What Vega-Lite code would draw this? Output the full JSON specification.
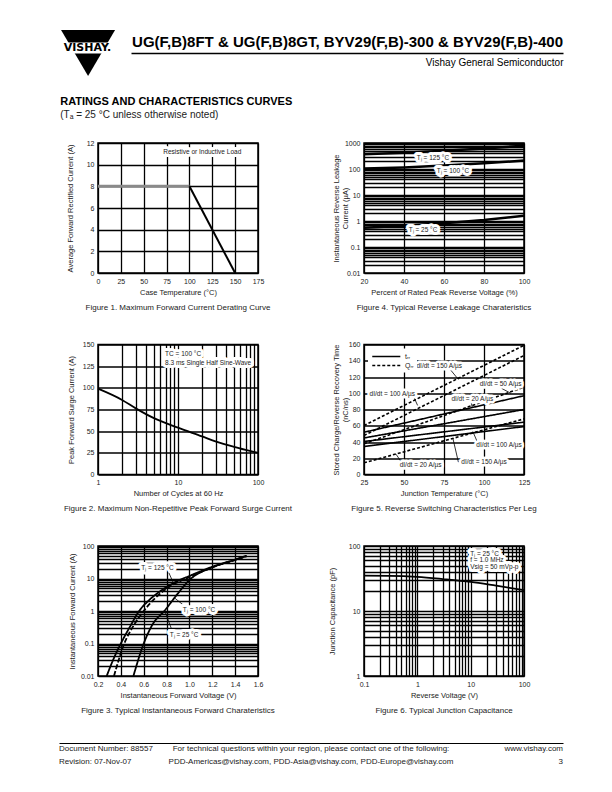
{
  "$schema": "https://vega.github.io/schema/vega-lite/v6.json",
  "background": "white",
  "padding": {"left": 59, "top": 29, "right": 10, "bottom": 10},
  "spacing": 19,
  "config": {
    "view": {"stroke": "black", "strokeWidth": 1.5},
    "axis": {
      "grid": true, "gridColor": "black", "gridOpacity": 1, "gridWidth": 1.3,
      "domain": false, "ticks": false,
      "labelFont": "Liberation Sans", "labelFontSize": 7, "labelColor": "#222",
      "labelPadding": 4, "labelFlush": false, "labelOverlap": false, "labelBound": false,
      "titleFont": "Liberation Sans", "titleFontSize": 7.5, "titleFontWeight": "normal",
      "titleColor": "#222", "titlePadding": 4
    },
    "axisY": {"titlePadding": 7},
    "title": {"font": "Liberation Sans", "fontSize": 8, "fontWeight": "normal", "color": "#222", "orient": "bottom", "anchor": "middle", "frame": "group", "offset": 8}
  },
  "datasets": {
    "fig1": [
      {"temp": 0, "current": 8, "seg": "flat"}, {"temp": 100, "current": 8, "seg": "flat"},
      {"temp": 100, "current": 8, "seg": "slope"}, {"temp": 150, "current": 0, "seg": "slope"}
    ],
    "fig1ann": [{"temp": 114, "current": 11.2, "label": "Resistive or Inductive Load"}],
    "fig4": [
      {"pct": 20, "ir": 370, "tj": "125"}, {"pct": 40, "ir": 420, "tj": "125"}, {"pct": 60, "ir": 500, "tj": "125"}, {"pct": 80, "ir": 620, "tj": "125"}, {"pct": 100, "ir": 780, "tj": "125"},
      {"pct": 20, "ir": 105, "tj": "100"}, {"pct": 40, "ir": 115, "tj": "100"}, {"pct": 60, "ir": 135, "tj": "100"}, {"pct": 80, "ir": 165, "tj": "100"}, {"pct": 100, "ir": 210, "tj": "100"},
      {"pct": 20, "ir": 0.55, "tj": "25"}, {"pct": 40, "ir": 0.65, "tj": "25"}, {"pct": 60, "ir": 0.82, "tj": "25"}, {"pct": 80, "ir": 1.1, "tj": "25"}, {"pct": 100, "ir": 1.6, "tj": "25"}
    ],
    "fig4ann": [
      {"pct": 54.5, "ir": 262, "label": "Tⱼ = 125 °C"},
      {"pct": 64.5, "ir": 82, "label": "Tⱼ = 100 °C"},
      {"pct": 49.5, "ir": 0.46, "label": "Tⱼ = 25 °C"}
    ],
    "fig2": [
      {"cycles": 1, "ifsm": 99}, {"cycles": 2, "ifsm": 86}, {"cycles": 3, "ifsm": 76}, {"cycles": 5, "ifsm": 65},
      {"cycles": 10, "ifsm": 54}, {"cycles": 20, "ifsm": 44}, {"cycles": 30, "ifsm": 38}, {"cycles": 50, "ifsm": 32},
      {"cycles": 70, "ifsm": 28.5}, {"cycles": 100, "ifsm": 25}
    ],
    "fig2ann": [
      {"cycles": 6.9, "ifsm": 139.5, "label": "TC = 100 °C"},
      {"cycles": 6.9, "ifsm": 129, "label": "8.3 ms Single Half Sine-Wave"}
    ],
    "fig5": [
      {"tj": 25, "val": 52, "type": "trr", "di": "150"}, {"tj": 125, "val": 97, "type": "trr", "di": "150"},
      {"tj": 25, "val": 45, "type": "trr", "di": "100"}, {"tj": 125, "val": 80, "type": "trr", "di": "100"},
      {"tj": 25, "val": 40.6, "type": "trr", "di": "50"}, {"tj": 125, "val": 64.4, "type": "trr", "di": "50"},
      {"tj": 25, "val": 34.5, "type": "trr", "di": "20"}, {"tj": 125, "val": 59, "type": "trr", "di": "20"},
      {"tj": 25, "val": 60.3, "type": "Qrr", "di": "150"}, {"tj": 125, "val": 159, "type": "Qrr", "di": "150"},
      {"tj": 25, "val": 48, "type": "Qrr", "di": "100"}, {"tj": 125, "val": 146.5, "type": "Qrr", "di": "100"},
      {"tj": 25, "val": 37.7, "type": "Qrr", "di": "50"}, {"tj": 125, "val": 107.5, "type": "Qrr", "di": "50"},
      {"tj": 25, "val": 14.4, "type": "Qrr", "di": "20"}, {"tj": 125, "val": 68.5, "type": "Qrr", "di": "20"}
    ],
    "fig5ann": [
      {"tj": 72, "val": 134, "label": "dI/dt = 150 A/µs"},
      {"tj": 110.4, "val": 111.6, "label": "dI/dt = 50 A/µs"},
      {"tj": 42.7, "val": 99.3, "label": "dI/dt = 100 A/µs"},
      {"tj": 92.7, "val": 93.1, "label": "dI/dt = 20 A/µs"},
      {"tj": 109.4, "val": 35.7, "label": "dI/dt = 100 A/µs"},
      {"tj": 100, "val": 15.2, "label": "dI/dt = 150 A/µs"},
      {"tj": 60.4, "val": 11.1, "label": "dI/dt = 20 A/µs"}
    ],
    "fig5arrows": [
      {"tj": 79, "val": 129, "tj2": 84, "val2": 117},
      {"tj": 111, "val": 106, "tj2": 116.7, "val2": 100},
      {"tj": 56, "val": 96, "tj2": 58.5, "val2": 85},
      {"tj": 92, "val": 89, "tj2": 92.7, "val2": 82},
      {"tj": 96.5, "val": 37, "tj2": 93, "val2": 53},
      {"tj": 84, "val": 15.2, "tj2": 80.5, "val2": 45},
      {"tj": 49, "val": 13.5, "tj2": 45, "val2": 25}
    ],
    "fig3": [
      {"vf": 0.276, "cur": 0.01, "tj": "125"}, {"vf": 0.33, "cur": 0.03, "tj": "125"}, {"vf": 0.4, "cur": 0.1, "tj": "125"}, {"vf": 0.48, "cur": 0.33, "tj": "125"},
      {"vf": 0.56, "cur": 1, "tj": "125"}, {"vf": 0.65, "cur": 2.2, "tj": "125"}, {"vf": 0.75, "cur": 4.2, "tj": "125"}, {"vf": 0.9, "cur": 8.5, "tj": "125"},
      {"vf": 1.0, "cur": 12, "tj": "125"}, {"vf": 1.2, "cur": 23, "tj": "125"}, {"vf": 1.4, "cur": 38, "tj": "125"}, {"vf": 1.5, "cur": 50, "tj": "125"},
      {"vf": 0.34, "cur": 0.01, "tj": "100"}, {"vf": 0.43, "cur": 0.1, "tj": "100"}, {"vf": 0.51, "cur": 0.35, "tj": "100"}, {"vf": 0.59, "cur": 0.9, "tj": "100"},
      {"vf": 0.7, "cur": 2.5, "tj": "100"}, {"vf": 0.84, "cur": 6, "tj": "100"}, {"vf": 1.0, "cur": 11, "tj": "100"}, {"vf": 1.2, "cur": 22, "tj": "100"},
      {"vf": 1.4, "cur": 37, "tj": "100"}, {"vf": 1.5, "cur": 48, "tj": "100"},
      {"vf": 0.51, "cur": 0.01, "tj": "25"}, {"vf": 0.6, "cur": 0.1, "tj": "25"}, {"vf": 0.68, "cur": 0.4, "tj": "25"}, {"vf": 0.78, "cur": 1, "tj": "25"},
      {"vf": 0.9, "cur": 3.5, "tj": "25"}, {"vf": 1.0, "cur": 9, "tj": "25"}, {"vf": 1.2, "cur": 22, "tj": "25"}, {"vf": 1.4, "cur": 38, "tj": "25"}, {"vf": 1.5, "cur": 50, "tj": "25"}
    ],
    "fig3ann": [
      {"vf": 0.72, "cur": 21.5, "label": "Tⱼ = 125 °C"},
      {"vf": 1.084, "cur": 1.1, "label": "Tⱼ = 100 °C"},
      {"vf": 0.953, "cur": 0.18, "label": "Tⱼ = 25 °C"}
    ],
    "fig3arrows": [
      {"vf": 0.82, "cur": 15, "vf2": 0.865, "cur2": 6.6},
      {"vf": 0.96, "cur": 1.4, "vf2": 0.865, "cur2": 2.6},
      {"vf": 0.84, "cur": 0.3, "vf2": 0.79, "cur2": 0.88}
    ],
    "fig6": [
      {"vr": 0.1, "cj": 35}, {"vr": 0.3, "cj": 34.8}, {"vr": 1, "cj": 33.5}, {"vr": 3, "cj": 31},
      {"vr": 10, "cj": 28}, {"vr": 30, "cj": 24.5}, {"vr": 100, "cj": 21}
    ],
    "fig6ann": [
      {"vr": 9.8, "cj": 75, "label": "Tⱼ = 25 °C"},
      {"vr": 9.8, "cj": 61, "label": "f = 1.0 MHz"},
      {"vr": 9.8, "cj": 47.5, "label": "Vsig = 50 mVp-p"}
    ],
    "footer": [
      {"col": "left", "line": 1, "text": "Document Number: 88557"},
      {"col": "left", "line": 2, "text": "Revision: 07-Nov-07"},
      {"col": "center", "line": 1, "text": "For technical questions within your region, please contact one of the following:"},
      {"col": "center", "line": 2, "text": "PDD-Americas@vishay.com, PDD-Asia@vishay.com, PDD-Europe@vishay.com"},
      {"col": "right", "line": 1, "text": "www.vishay.com"},
      {"col": "right", "line": 2, "text": "3"}
    ]
  },
  "vconcat": [
    {
      "hconcat": [
        {
          "width": 57, "height": 47,
          "view": {"stroke": null},
          "data": {"values": [{}]},
          "layer": [
            {
              "mark": {"type": "point", "shape": "M-1,-0.852L1,-0.852L0,0.852Z", "filled": true, "fill": "black", "strokeWidth": 0, "size": 2916, "opacity": 1},
              "encoding": {
                "x": {"datum": 0.51, "type": "quantitative", "scale": {"domain": [0, 1]}, "axis": null},
                "y": {"datum": 0.511, "type": "quantitative", "scale": {"domain": [0, 1]}, "axis": null}
              }
            },
            {
              "mark": {"type": "rect", "fill": "white"},
              "encoding": {
                "x": {"datum": 0, "type": "quantitative"}, "x2": {"datum": 1},
                "y": {"datum": 0.5, "type": "quantitative"}, "y2": {"datum": 0.734}
              }
            },
            {
              "mark": {"type": "text", "text": "VISHAY.", "font": "DejaVu Sans", "fontWeight": "bold", "fontSize": 11, "fill": "black", "align": "center", "baseline": "middle"},
              "encoding": {
                "x": {"datum": 0.5, "type": "quantitative"},
                "y": {"datum": 0.625, "type": "quantitative"}
              }
            }
          ]
        },
        {
          "width": 432, "height": 23,
          "view": {"stroke": null},
          "data": {"values": [{}]},
          "mark": {"type": "text", "text": "UG(F,B)8FT & UG(F,B)8GT, BYV29(F,B)-300 & BYV29(F,B)-400", "align": "right", "baseline": "alphabetic", "fontSize": 15, "fontWeight": "bold", "fill": "black", "font": "Liberation Sans"},
          "encoding": {
            "x": {"datum": 1, "type": "quantitative", "scale": {"domain": [0, 1]},
              "axis": {"orient": "bottom", "domain": true, "domainColor": "black", "domainWidth": 1.3, "labels": false, "ticks": false, "grid": false,
                "title": "Vishay General Semiconductor", "titleAnchor": "end", "titleFontSize": 10, "titleFont": "Liberation Sans", "titleColor": "black", "titlePadding": 4, "labelPadding": 0}},
            "y": {"datum": 0.26, "type": "quantitative", "scale": {"domain": [0, 1]}, "axis": null}
          }
        }
      ],
      "spacing": 15,
      "bounds": "flush"
    },
    {
      "vconcat": [
        {
          "hconcat": [
            {"width": 0.01, "height": 0.01, "view": {"stroke": null}, "data": {"values": []}, "mark": "point"},
            {
              "title": {"text": "RATINGS AND CHARACTERISTICS CURVES", "subtitle": "(Tₐ = 25 °C unless otherwise noted)", "anchor": "start", "orient": "top", "frame": "bounds", "dx": -3,
                "fontSize": 11, "fontWeight": "bold", "font": "Liberation Sans", "color": "black",
                "subtitleFontSize": 10, "subtitleFont": "Liberation Sans", "subtitleColor": "#222", "subtitlePadding": 3, "offset": 18},
              "columns": 2,
              "spacing": {"row": 71.5, "column": 106},
              "bounds": "flush",
              "resolve": {"scale": {"strokeDash": "independent"}, "legend": {"strokeDash": "independent"}},
              "concat": [
                {
                  "width": 160, "height": 130,
                  "title": {"text": "Figure 1. Maximum Forward Current Derating Curve"},
                  "encoding": {
                    "x": {"field": "temp", "type": "quantitative", "scale": {"domain": [0, 175], "nice": false}, "axis": {"values": [0, 25, 50, 75, 100, 125, 150, 175], "title": "Case Temperature (°C)"}},
                    "y": {"field": "current", "type": "quantitative", "scale": {"domain": [0, 12], "nice": false}, "axis": {"values": [0, 2, 4, 6, 8, 10, 12], "title": "Average Forward Rectified Current (A)", "titleX": -24}}
                  },
                  "layer": [
                    {"data": {"name": "fig1"}, "transform": [{"filter": "datum.seg == 'flat'"}], "mark": {"type": "line", "color": "#8a8a8a", "strokeWidth": 3}},
                    {"data": {"name": "fig1"}, "transform": [{"filter": "datum.seg == 'slope'"}], "mark": {"type": "line", "color": "black", "strokeWidth": 2}},
                    {"data": {"name": "fig1ann"}, "mark": {"type": "text", "fill": "white", "stroke": "white", "strokeWidth": 6, "strokeJoin": "round", "fontSize": 6.5, "font": "Liberation Sans"}, "encoding": {"text": {"field": "label"}}},
                    {"data": {"name": "fig1ann"}, "mark": {"type": "text", "fill": "#222", "fontSize": 6.5, "font": "Liberation Sans"}, "encoding": {"text": {"field": "label"}}}
                  ]
                },
                {
                  "width": 160, "height": 130,
                  "title": {"text": "Figure 4. Typical Reverse Leakage Charateristics"},
                  "encoding": {
                    "x": {"field": "pct", "type": "quantitative", "scale": {"domain": [20, 100], "nice": false, "zero": false}, "axis": {"values": [20, 40, 60, 80, 100], "title": "Percent of Rated Peak Reverse Voltage (%)"}},
                    "y": {"field": "ir", "type": "quantitative", "scale": {"type": "log", "domain": [0.01, 1000], "nice": false},
                      "axis": {"values": [0.01, 0.02, 0.03, 0.04, 0.05, 0.06, 0.07, 0.08, 0.09, 0.1, 0.2, 0.3, 0.4, 0.5, 0.6, 0.7, 0.8, 0.9, 1, 2, 3, 4, 5, 6, 7, 8, 9, 10, 20, 30, 40, 50, 60, 70, 80, 90, 100, 200, 300, 400, 500, 600, 700, 800, 900, 1000],
                        "format": "~g", "labelExpr": "indexof(['0.01','0.1','1','10','100','1000'], datum.label) >= 0 ? datum.label : ''", "gridWidth": 1.6,
                        "title": ["Instantaneous Reverse Leakage", "Current (µA)"], "titleX": -24}}
                  },
                  "layer": [
                    {"data": {"name": "fig4"}, "mark": {"type": "line", "color": "black", "strokeWidth": 2.5, "clip": true}, "encoding": {"detail": {"field": "tj"}}},
                    {"data": {"name": "fig4ann"}, "mark": {"type": "text", "fill": "white", "stroke": "white", "strokeWidth": 6, "strokeJoin": "round", "fontSize": 6.5, "font": "Liberation Sans"}, "encoding": {"text": {"field": "label"}}},
                    {"data": {"name": "fig4ann"}, "mark": {"type": "text", "fill": "#222", "fontSize": 6.5, "font": "Liberation Sans"}, "encoding": {"text": {"field": "label"}}}
                  ]
                },
                {
                  "width": 160, "height": 130,
                  "title": {"text": "Figure 2. Maximum Non-Repetitive Peak Forward Surge Current"},
                  "encoding": {
                    "x": {"field": "cycles", "type": "quantitative", "scale": {"type": "log", "domain": [1, 100], "nice": false},
                      "axis": {"values": [1, 2, 3, 4, 5, 6, 7, 8, 9, 10, 20, 30, 40, 50, 60, 70, 80, 90, 100], "format": "~g",
                        "labelExpr": "indexof(['1','10','100'], datum.label) >= 0 ? datum.label : ''", "title": "Number of Cycles at 60 Hz"}},
                    "y": {"field": "ifsm", "type": "quantitative", "scale": {"domain": [0, 150], "nice": false}, "axis": {"values": [0, 25, 50, 75, 100, 125, 150], "title": "Peak Forward Surge Current (A)", "titleX": -23}}
                  },
                  "layer": [
                    {"data": {"name": "fig2"}, "mark": {"type": "line", "color": "black", "strokeWidth": 1.8, "interpolate": "monotone"}},
                    {"data": {"name": "fig2ann"}, "mark": {"type": "text", "align": "left", "fill": "white", "stroke": "white", "strokeWidth": 6, "strokeJoin": "round", "fontSize": 6.5, "font": "Liberation Sans"}, "encoding": {"text": {"field": "label"}}},
                    {"data": {"name": "fig2ann"}, "mark": {"type": "text", "align": "left", "fill": "#222", "fontSize": 6.5, "font": "Liberation Sans"}, "encoding": {"text": {"field": "label"}}}
                  ]
                },
                {
                  "width": 160, "height": 130,
                  "title": {"text": "Figure 5. Reverse Switching Characteristics Per Leg"},
                  "encoding": {
                    "x": {"field": "tj", "type": "quantitative", "scale": {"domain": [25, 125], "nice": false, "zero": false}, "axis": {"values": [25, 50, 75, 100, 125], "title": "Junction Temperature (°C)"}},
                    "y": {"field": "val", "type": "quantitative", "scale": {"domain": [0, 160], "nice": false}, "axis": {"values": [0, 20, 40, 60, 80, 100, 120, 140, 160], "title": ["Stored Charge/Reverse Recovery Time", "(nC/ns)"], "titleX": -24}}
                  },
                  "layer": [
                    {"data": {"name": "fig5"}, "mark": {"type": "line", "color": "black", "strokeWidth": 1.6, "clip": true},
                      "encoding": {
                        "detail": {"field": "di"},
                        "strokeDash": {"field": "type", "type": "nominal", "scale": {"domain": ["trr", "Qrr"], "range": [[1, 0], [3, 2]]},
                          "legend": {"orient": "top-left", "offset": 4, "title": null, "fillColor": "white", "padding": 3,
                            "symbolType": "M-1,0L6.5,0", "symbolSize": 56, "symbolStrokeWidth": 1.6, "symbolStrokeColor": "black",
                            "labelFontSize": 7, "labelFont": "Liberation Sans", "labelColor": "#222", "labelOffset": 24, "rowPadding": 0,
                            "labelExpr": "datum.label == 'trr' ? 'tᵣᵣ' : 'Qᵣᵣ'"}}
                      }},
                    {"data": {"name": "fig5arrows"}, "mark": {"type": "rule", "color": "black", "strokeWidth": 0.8}, "encoding": {"x2": {"field": "tj2"}, "y2": {"field": "val2"}}},
                    {"data": {"name": "fig5ann"}, "mark": {"type": "text", "fill": "white", "stroke": "white", "strokeWidth": 5, "strokeJoin": "round", "fontSize": 6.5, "font": "Liberation Sans"}, "encoding": {"text": {"field": "label"}}},
                    {"data": {"name": "fig5ann"}, "mark": {"type": "text", "fill": "#222", "fontSize": 6.5, "font": "Liberation Sans"}, "encoding": {"text": {"field": "label"}}}
                  ]
                },
                {
                  "width": 160, "height": 130,
                  "title": {"text": "Figure 3. Typical Instantaneous Forward Charateristics"},
                  "encoding": {
                    "x": {"field": "vf", "type": "quantitative", "scale": {"domain": [0.2, 1.6], "nice": false, "zero": false}, "axis": {"values": [0.2, 0.4, 0.6, 0.8, 1.0, 1.2, 1.4, 1.6], "format": ".1f", "title": "Instantaneous Forward Voltage (V)"}},
                    "y": {"field": "cur", "type": "quantitative", "scale": {"type": "log", "domain": [0.01, 100], "nice": false},
                      "axis": {"values": [0.01, 0.02, 0.03, 0.04, 0.05, 0.06, 0.07, 0.08, 0.09, 0.1, 0.2, 0.3, 0.4, 0.5, 0.6, 0.7, 0.8, 0.9, 1, 2, 3, 4, 5, 6, 7, 8, 9, 10, 20, 30, 40, 50, 60, 70, 80, 90, 100],
                        "format": "~g", "labelExpr": "indexof(['0.01','0.1','1','10','100'], datum.label) >= 0 ? datum.label : ''", "gridWidth": 1.6,
                        "title": "Instantaneous Forward Current (A)", "titleX": -22}}
                  },
                  "layer": [
                    {"data": {"name": "fig3"}, "mark": {"type": "line", "color": "black", "strokeWidth": 1.8, "interpolate": "monotone", "clip": true},
                      "encoding": {"detail": {"field": "tj"}, "strokeDash": {"field": "tj", "type": "nominal", "scale": {"domain": ["125", "100", "25"], "range": [[1, 0], [5, 2], [1, 0]]}, "legend": null}}},
                    {"data": {"name": "fig3arrows"}, "mark": {"type": "rule", "color": "black", "strokeWidth": 0.8}, "encoding": {"x2": {"field": "vf2"}, "y2": {"field": "cur2"}}},
                    {"data": {"name": "fig3ann"}, "mark": {"type": "text", "fill": "white", "stroke": "white", "strokeWidth": 6, "strokeJoin": "round", "fontSize": 6.5, "font": "Liberation Sans"}, "encoding": {"text": {"field": "label"}}},
                    {"data": {"name": "fig3ann"}, "mark": {"type": "text", "fill": "#222", "fontSize": 6.5, "font": "Liberation Sans"}, "encoding": {"text": {"field": "label"}}}
                  ]
                },
                {
                  "width": 160, "height": 130,
                  "title": {"text": "Figure 6. Typical Junction Capacitance"},
                  "encoding": {
                    "x": {"field": "vr", "type": "quantitative", "scale": {"type": "log", "domain": [0.1, 100], "nice": false},
                      "axis": {"values": [0.1, 0.2, 0.3, 0.4, 0.5, 0.6, 0.7, 0.8, 0.9, 1, 2, 3, 4, 5, 6, 7, 8, 9, 10, 20, 30, 40, 50, 60, 70, 80, 90, 100], "format": "~g",
                        "labelExpr": "indexof(['0.1','1','10','100'], datum.label) >= 0 ? datum.label : ''", "title": "Reverse Voltage (V)"}},
                    "y": {"field": "cj", "type": "quantitative", "scale": {"type": "log", "domain": [1, 100], "nice": false},
                      "axis": {"values": [1, 2, 3, 4, 5, 6, 7, 8, 9, 10, 20, 30, 40, 50, 60, 70, 80, 90, 100], "format": "~g",
                        "labelExpr": "indexof(['1','10','100'], datum.label) >= 0 ? datum.label : ''", "gridWidth": 1.4, "title": "Junction Capacitance (pF)", "titleX": -28}}
                  },
                  "layer": [
                    {"data": {"name": "fig6"}, "mark": {"type": "line", "color": "black", "strokeWidth": 1.8, "interpolate": "monotone"}},
                    {"data": {"name": "fig6ann"}, "mark": {"type": "text", "align": "left", "fill": "white", "stroke": "white", "strokeWidth": 6, "strokeJoin": "round", "fontSize": 6.5, "font": "Liberation Sans"}, "encoding": {"text": {"field": "label"}}},
                    {"data": {"name": "fig6ann"}, "mark": {"type": "text", "align": "left", "fill": "#222", "fontSize": 6.5, "font": "Liberation Sans"}, "encoding": {"text": {"field": "label"}}}
                  ]
                }
              ]
            }
          ],
          "spacing": 0.001
        },
        {
          "width": 504, "height": 25,
          "view": {"stroke": null},
          "data": {"name": "footer"},
          "encoding": {
            "x": {"field": "col", "type": "nominal", "scale": {"type": "point", "domain": ["left", "center", "right"], "padding": 0},
              "axis": {"orient": "top", "domain": true, "domainColor": "black", "domainWidth": 1.2, "labels": false, "ticks": false, "grid": false, "title": null}},
            "y": {"field": "line", "type": "ordinal", "scale": {"type": "point", "padding": 0.5}, "axis": null},
            "text": {"field": "text"}
          },
          "layer": [
            {"transform": [{"filter": "datum.col == 'left'"}], "mark": {"type": "text", "align": "left", "fontSize": 8, "font": "Liberation Sans", "fill": "#222"}},
            {"transform": [{"filter": "datum.col == 'center'"}], "mark": {"type": "text", "align": "center", "fontSize": 8, "font": "Liberation Sans", "fill": "#222"}},
            {"transform": [{"filter": "datum.col == 'right'"}], "mark": {"type": "text", "align": "right", "fontSize": 8, "font": "Liberation Sans", "fill": "#222"}}
          ]
        }
      ],
      "spacing": 27
    }
  ]
}
